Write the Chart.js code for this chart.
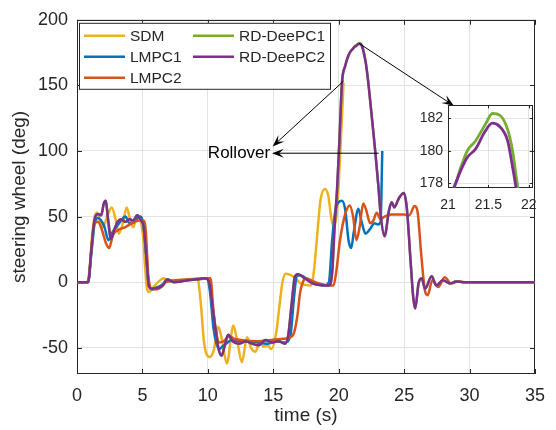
<!DOCTYPE html>
<html>
<head>
<meta charset="utf-8">
<script src="https://cdn.jsdelivr.net/npm/chart.js@4/dist/chart.umd.min.js"></script>
<style>
  html, body { margin: 0; padding: 0; background: #fff; }
  #wrap { position: relative; width: 556px; height: 430px; }
  #main { position: absolute; left: 0; top: 0; }
  #inset { position: absolute; left: 400px; top: 92px; }
</style>
</head>
<body>
<div id="wrap">
  <canvas id="main" width="556" height="430"></canvas>
  <canvas id="inset" width="146" height="130"></canvas>
</div>
<script>
// series names / colours (MATLAB default order)
const seriesNames = ['SDM', 'LMPC1', 'LMPC2', 'RD-DeePC1', 'RD-DeePC2'];
const seriesColors = ['#EDB120', '#0072BD', '#D95319', '#77AC30', '#7E2F8E'];

const xTicks = [0, 5, 10, 15, 20, 25, 30, 35];
const yTicks = [-50, 0, 50, 100, 150, 200];
const insetXTicks = [21, 21.5, 22];
const insetYTicks = [178, 180, 182];

// time (s) / steering wheel (deg)
const sdmT = [0, 0.75, 0.95, 1.15, 1.35, 1.55, 1.8, 2.0, 2.3, 2.65, 2.95, 3.2, 3.5, 3.8, 4.05, 4.3, 4.6, 4.85, 5.05, 5.2, 5.35, 5.5, 5.9, 6.3, 6.65, 7.0, 7.5, 8.5, 9.2, 9.45, 9.7, 9.9, 10.15, 10.45, 10.8, 11.1, 11.45, 11.95, 12.25, 12.6, 13.0, 13.3, 13.65, 13.95, 14.25, 14.55, 14.85, 15.2, 15.45, 15.7, 15.95, 16.3, 16.7, 17.1, 17.9, 18.1, 18.35, 18.6, 18.95, 19.2, 19.45, 19.65, 19.85, 20.0, 20.15, 20.37];
const sdmY = [0, 0, 8, 35, 50, 53, 45, 42, 50, 57, 48, 37, 45, 57, 48, 42, 51, 47, 35, 12, -5, -7.5, -3, 1, 3, 0.5, 1.5, 2, 3, -15, -45, -55, -57, -52, -34, -45, -62, -33, -45, -61, -42, -50, -53, -45, -49, -48, -51, -40, -20, 0, 6.5, 5.5, 3, -1, -2.5, 8, 35, 62, 71, 66, 48, 42, 52, 75, 105, 152];

const lmpc1T = [0, 0.85, 1.1, 1.35, 1.6, 1.85, 2.1, 2.4, 2.7, 3.0, 3.3, 3.7, 4.0, 4.4, 4.8, 5.05, 5.25, 5.5, 5.75, 6.1, 6.5, 6.9, 7.4, 8.2, 9.0, 9.95, 10.17, 10.43, 10.67, 10.9, 11.1, 11.4, 11.8, 12.3, 13.0, 13.8, 14.5, 15.3, 15.9, 16.3, 16.6, 16.8, 17.1, 17.9, 18.9, 19.25, 19.5, 19.75, 20.0, 20.25, 20.5, 20.75, 20.95, 21.15, 21.5, 21.75, 22.05, 22.36, 22.74, 23.0, 23.2, 23.33];
const lmpc1Y = [0, 0, 22, 45, 49, 47, 42, 32, 38, 42, 46, 50, 45, 46, 50, 45, 25, -3, -5.5, -4, -2, 2, 0.5, 1.5, 2, 3, -8, -35, -47, -51, -49, -47, -44, -45, -45, -46, -47, -45, -46, -41, -10, 5, 5, 0, -2.5, 0, 32, 55, 61, 62, 55, 32, 26, 38, 56, 46, 37, 40, 45, 44, 46, 100];

const lmpc2T = [0, 0.85, 1.05, 1.3, 1.6, 1.9, 2.2, 2.45, 2.75, 3.2, 3.7, 4.2, 4.75, 5.05, 5.25, 5.45, 5.7, 6.0, 6.4, 6.8, 7.2, 8.5, 9.5, 10.2, 10.43, 10.67, 10.9, 11.2, 11.67, 12.0, 12.5, 13.9, 15.4, 16.3, 16.6, 16.85, 17.05, 17.26, 17.5, 18.0, 18.5, 19.25, 19.6, 19.8, 20.1, 20.5, 20.85, 21.1, 21.35, 21.6, 21.87, 22.1, 22.4, 22.65, 22.9, 23.2, 23.5, 24.0, 25.0, 25.4, 25.8, 26.05, 26.3, 26.6, 26.8, 27.15, 27.6, 28.1, 28.6, 29.1, 29.6, 35];
const lmpc2Y = [0, 0, 20, 44, 46, 40, 30, 26, 36, 40, 42, 45, 47, 47, 40, 5, -5, -5.5, -4, 0, 1, 2, 2.5, 3, -22, -40, -46, -45, -41, -43, -44, -45, -43.5, -42, -38, -25, -8, 0, 3, 1, -1, -2.5, -2.5, 7, 32, 52, 58.5, 50, 32, 42, 60, 55, 45, 47, 53, 48, 50, 51.5, 51.5, 51, 58, 52, 22, -7, -10, 1.5, -3.7, 3.7, -1, 0.5, 0, 0];

const deepc1T = [0, 0.85, 1.1, 1.35, 1.6, 1.85, 2.05, 2.2, 2.35, 2.6, 2.85, 3.1, 3.4, 3.7, 4.0, 4.3, 4.6, 4.9, 5.1, 5.3, 5.5, 5.7, 6.1, 6.5, 6.9, 7.4, 8.2, 9.0, 9.8, 10.1, 10.4, 10.8, 11.05, 11.3, 11.55, 11.9, 12.4, 12.9, 13.4, 13.9, 14.4, 14.9, 15.4, 15.9, 16.15, 16.4, 16.65, 16.9, 17.4, 18.0, 18.4, 19.25, 19.5, 19.7, 19.87, 20.05, 20.25, 20.5, 20.75, 20.95, 21.08, 21.16, 21.24, 21.34, 21.46, 21.55, 21.64, 21.74, 21.8, 21.84, 21.9, 22.07, 22.24, 22.5, 22.8, 23.06, 23.2, 23.5, 23.85, 24.05, 24.25, 24.6, 24.98, 25.2, 25.5, 25.7, 25.85, 26.1, 26.34, 26.6, 27.1, 27.46, 27.96, 28.5, 28.95, 29.5, 35];
const deepc1Y = [0, 0, 25, 48, 52, 51, 60, 62, 50, 33, 40, 46, 48, 46, 48, 47, 51, 47, 42, 20, -3, -5, -4.5, -3, 2, 0, 1, 2, 3, 0, -22, -50, -56, -48, -40, -45, -47, -45, -47, -48, -44, -46, -45, -47, -40, -17, 4, 6, 3, -1, -2, -2.5, 7.5, 45, 70, 107, 152, 165, 173, 176.5, 177.8, 179.0, 180.0, 180.6, 181.6, 182.3, 182.2, 181.3, 180.0, 178.6, 176.3, 167.5, 154, 129, 99, 70, 52, 35, 55, 61, 57, 64, 68, 57, 15, -12, -20, -1, 3, -5, 4.5, -2.5, 1.5, -1, 0.5, 0, 0];

const deepc2T = [0, 0.85, 1.1, 1.35, 1.6, 1.85, 2.05, 2.2, 2.35, 2.6, 2.85, 3.1, 3.4, 3.7, 4.0, 4.3, 4.6, 4.9, 5.1, 5.3, 5.5, 5.7, 6.1, 6.5, 6.9, 7.4, 8.2, 9.0, 9.8, 10.1, 10.4, 10.8, 11.05, 11.3, 11.55, 11.9, 12.4, 12.9, 13.4, 13.9, 14.4, 14.9, 15.4, 15.9, 16.15, 16.4, 16.65, 16.9, 17.4, 18.0, 18.4, 19.25, 19.5, 19.7, 19.87, 20.05, 20.25, 20.5, 20.75, 20.95, 21.08, 21.16, 21.24, 21.34, 21.46, 21.55, 21.64, 21.74, 21.8, 21.84, 21.9, 22.07, 22.24, 22.5, 22.8, 23.06, 23.2, 23.5, 23.85, 24.05, 24.25, 24.6, 24.98, 25.2, 25.5, 25.7, 25.85, 26.1, 26.34, 26.6, 27.1, 27.46, 27.96, 28.5, 28.95, 29.5, 35];
const deepc2Y = [0, 0, 25, 48, 52, 51, 60, 62, 50, 33, 40, 46, 48, 46, 48, 47, 51, 47, 42, 20, -3, -5, -4.5, -3, 2, 0, 1, 2, 3, 0, -22, -50, -56, -48, -40, -45, -47, -45, -47, -48, -44, -46, -45, -47, -40, -17, 4, 6, 3, -1, -2, -2.5, 7.5, 45, 70, 107, 152, 165, 173, 176.5, 177.8, 178.8, 179.6, 180.1, 181.2, 181.7, 181.5, 180.6, 179, 177.8, 175.5, 167, 154, 129, 99, 70, 52, 35, 55, 61, 57, 64, 68, 57, 15, -12, -20, -1, 3, -5, 4.5, -2.5, 1.5, -1, 0.5, 0, 0];

// annotation anchors in data units
const arrowNotes = [
  { from: [21.57, 181.9], to: [28.8, 134.5] },
  { from: [20.37, 153.3], to: [14.95, 103.5] },
  { from: [23.06, 98.3], to: [14.9, 98.3] }
];
const noteLabel = { text: 'Rollover', at: [10.0, 98.0] };

Chart.defaults.font.family = '"Liberation Sans", Arial, Helvetica, sans-serif';
Chart.defaults.color = '#262626';

const INK = '#262626';
const GRID = '#e3e3e3';

function toPoints(t, y) {
  return t.map((v, i) => ({ x: v, y: y[i] }));
}

const allSeries = [[sdmT, sdmY], [lmpc1T, lmpc1Y], [lmpc2T, lmpc2Y], [deepc1T, deepc1Y], [deepc2T, deepc2Y]];

function makeDataset(i, width) {
  return {
    label: seriesNames[i],
    data: toPoints(allSeries[i][0], allSeries[i][1]),
    borderColor: seriesColors[i],
    backgroundColor: seriesColors[i],
    borderWidth: width,
    pointRadius: 0,
    cubicInterpolationMode: 'monotone',
    order: 5 - i
  };
}

// white plot area + matlab style box with inward ticks
const boxPlugin = {
  id: 'box',
  beforeDraw(chart) {
    const { ctx, chartArea: a } = chart;
    ctx.save();
    ctx.fillStyle = '#fff';
    ctx.fillRect(a.left, a.top, a.right - a.left, a.bottom - a.top);
    ctx.restore();
  },
  beforeDatasetsDraw(chart, args, opts) {
    const { ctx, chartArea: a, scales: { x, y } } = chart;
    const len = opts.tick || 5;
    ctx.save();
    ctx.strokeStyle = INK;
    ctx.lineWidth = 1;
    ctx.strokeRect(Math.round(a.left) + 0.5, Math.round(a.top) + 0.5, Math.round(a.right - a.left) - 1, Math.round(a.bottom - a.top) - 1);
    ctx.beginPath();
    x.ticks.forEach(t => {
      const px = Math.round(x.getPixelForValue(t.value)) + 0.5;
      ctx.moveTo(px, a.bottom); ctx.lineTo(px, a.bottom - len);
      ctx.moveTo(px, a.top); ctx.lineTo(px, a.top + len);
    });
    y.ticks.forEach(t => {
      const py = Math.round(y.getPixelForValue(t.value)) + 0.5;
      ctx.moveTo(a.left, py); ctx.lineTo(a.left + len, py);
      ctx.moveTo(a.right, py); ctx.lineTo(a.right - len, py);
    });
    ctx.stroke();
    ctx.restore();
  }
};

function drawArrow(ctx, x1, y1, x2, y2) {
  const ang = Math.atan2(y2 - y1, x2 - x1);
  const L = 12, W = 4.5, N = 7;
  ctx.beginPath();
  ctx.moveTo(x1, y1);
  ctx.lineTo(x2 - Math.cos(ang) * N, y2 - Math.sin(ang) * N);
  ctx.stroke();
  ctx.save();
  ctx.translate(x2, y2);
  ctx.rotate(ang);
  ctx.beginPath();
  ctx.moveTo(0, 0);
  ctx.lineTo(-L, -W);
  ctx.lineTo(-N, 0);
  ctx.lineTo(-L, W);
  ctx.closePath();
  ctx.fill();
  ctx.restore();
}

const notesPlugin = {
  id: 'notes',
  afterDraw(chart) {
    const { ctx, scales: { x, y } } = chart;
    ctx.save();
    ctx.strokeStyle = '#000';
    ctx.fillStyle = '#000';
    ctx.lineWidth = 1;
    arrowNotes.forEach(n => {
      drawArrow(ctx,
        x.getPixelForValue(n.from[0]), y.getPixelForValue(n.from[1]),
        x.getPixelForValue(n.to[0]), y.getPixelForValue(n.to[1]));
    });
    ctx.font = '17px "Liberation Sans", Arial, sans-serif';
    ctx.textAlign = 'left';
    ctx.textBaseline = 'middle';
    ctx.fillText(noteLabel.text, x.getPixelForValue(noteLabel.at[0]), y.getPixelForValue(noteLabel.at[1]));
    ctx.restore();
  }
};

// two-column legend, column-major like matlab NumColumns = 2
const legendPlugin = {
  id: 'matLegend',
  afterDraw(chart) {
    const { ctx, chartArea: a } = chart;
    const bx = a.left + 2, by = a.top + 3, bw = 251, bh = 66;
    ctx.save();
    ctx.fillStyle = '#fff';
    ctx.fillRect(bx, by, bw, bh);
    ctx.strokeStyle = INK;
    ctx.lineWidth = 1;
    ctx.strokeRect(bx + 0.5, by + 0.5, bw, bh);
    ctx.font = '15.5px "Liberation Sans", Arial, sans-serif';
    ctx.textBaseline = 'middle';
    ctx.fillStyle = INK;
    const colX = [bx + 5, bx + 114];
    const rowY = [by + 13, by + 34, by + 55];
    seriesNames.forEach((name, i) => {
      const c = i < 3 ? 0 : 1;
      const r = i < 3 ? i : i - 3;
      const lx = colX[c], ly = rowY[r];
      ctx.strokeStyle = seriesColors[i];
      ctx.lineWidth = 2.5;
      ctx.beginPath();
      ctx.moveTo(lx, ly);
      ctx.lineTo(lx + 41, ly);
      ctx.stroke();
      ctx.fillStyle = INK;
      ctx.fillText(name, lx + 46, ly + 1);
    });
    ctx.restore();
  }
};

new Chart(document.getElementById('main'), {
  type: 'line',
  data: {
    datasets: [0, 1, 2, 3, 4].map(i => makeDataset(i, 2.5))
  },
  options: {
    responsive: false,
    animation: false,
    devicePixelRatio: 1,
    layout: { padding: { left: 0, top: 15, right: 10, bottom: 2 } },
    plugins: {
      legend: { display: false },
      tooltip: { enabled: false },
      box: { tick: 5 }
    },
    scales: {
      x: {
        type: 'linear',
        min: 0,
        max: 35,
        afterBuildTicks: s => { s.ticks = xTicks.map(v => ({ value: v })); },
        afterFit: s => { s.height = 54; },
        ticks: { font: { size: 18 }, color: INK, padding: 11, maxRotation: 0, callback: v => String(v) },
        grid: { color: GRID, drawTicks: false },
        border: { display: false },
        title: { display: true, text: 'time (s)', font: { size: 19, lineHeight: 1 }, color: INK, padding: { top: 0, bottom: 3 } }
      },
      y: {
        type: 'linear',
        min: -70,
        max: 200,
        afterBuildTicks: s => { s.ticks = yTicks.map(v => ({ value: v })); },
        afterFit: s => { s.width = 77; },
        ticks: { font: { size: 18 }, color: INK, padding: 9, callback: v => String(v) },
        grid: { color: GRID, drawTicks: false },
        border: { display: false },
        title: { display: true, text: 'steering wheel (deg)', font: { size: 19, lineHeight: 1 }, color: INK, padding: { top: 10, bottom: 0 } }
      }
    }
  },
  plugins: [boxPlugin, legendPlugin, notesPlugin]
});

// zoomed inset around the peak
new Chart(document.getElementById('inset'), {
  type: 'line',
  data: {
    datasets: [3, 4].map(i => makeDataset(i, 2.8))
  },
  options: {
    responsive: false,
    animation: false,
    devicePixelRatio: 1,
    layout: { padding: { left: 0, top: 12, right: 11, bottom: 0 } },
    plugins: {
      legend: { display: false },
      tooltip: { enabled: false },
      box: { tick: 3 }
    },
    scales: {
      x: {
        type: 'linear',
        min: 21,
        max: 22.05,
        afterBuildTicks: s => { s.ticks = insetXTicks.map(v => ({ value: v })); },
        afterFit: s => { s.height = 34; },
        ticks: { font: { size: 14 }, color: INK, padding: 9, maxRotation: 0, callback: v => String(v) },
        grid: { color: GRID, drawTicks: false },
        border: { display: false }
      },
      y: {
        type: 'linear',
        min: 177.7,
        max: 182.8,
        afterBuildTicks: s => { s.ticks = insetYTicks.map(v => ({ value: v })); },
        afterFit: s => { s.width = 48; },
        ticks: { font: { size: 14 }, color: INK, padding: 5, callback: v => String(v) },
        grid: { color: GRID, drawTicks: false },
        border: { display: false }
      }
    }
  },
  plugins: [boxPlugin]
});
</script>
</body>
</html>
